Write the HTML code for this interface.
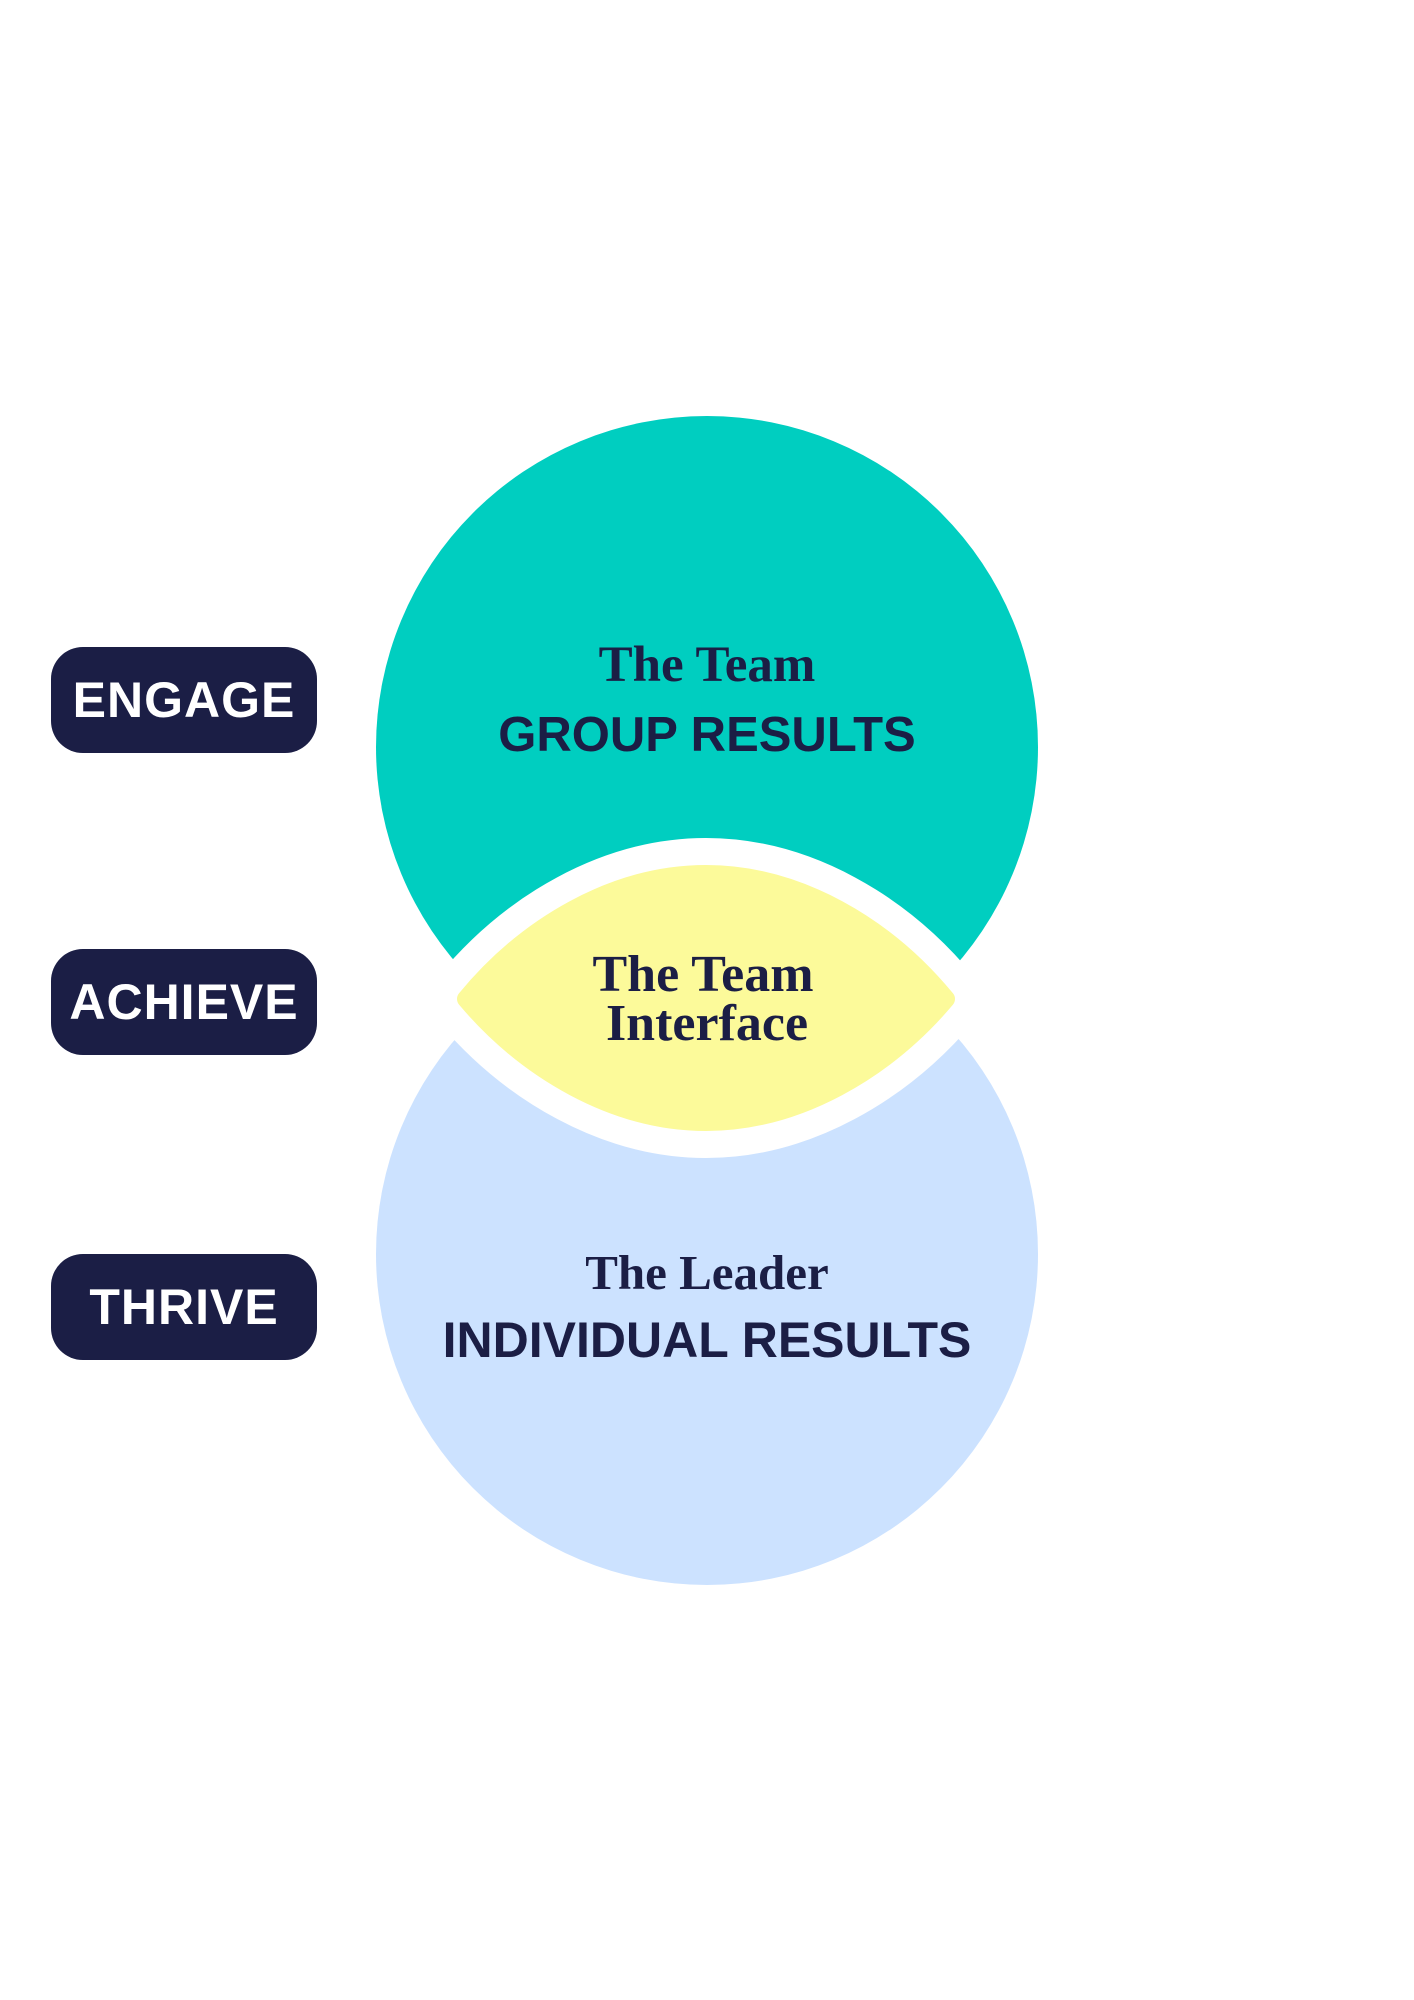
<!DOCTYPE html>
<html>
<head>
<meta charset="utf-8">
<style>
  html,body{margin:0;padding:0;background:#fff;}
  body{width:1414px;height:2000px;position:relative;overflow:hidden;}
  svg{position:absolute;left:0;top:0;}
  .pill{position:absolute;left:51px;width:266px;height:106px;border-radius:32px;background:#1b1e45;color:#fff;
    font-family:"Liberation Sans",sans-serif;font-weight:bold;font-size:50px;display:flex;align-items:center;justify-content:center;letter-spacing:1px;}
</style>
</head>
<body>
<svg width="1414" height="2000" viewBox="0 0 1414 2000">
  <circle cx="707" cy="747" r="331" fill="#00cec0"/>
  <circle cx="707" cy="1254" r="331" fill="#cce2ff"/>
  <path d="M466,999 C526,926 614,874 706,874 C798,874 886,926 946,999 C886,1070 798,1122 706,1122 C614,1122 526,1070 466,999 Z"
        fill="#fff" stroke="#fff" stroke-width="72" stroke-linejoin="round"/>
  <path d="M466,999 C526,926 614,874 706,874 C798,874 886,926 946,999 C886,1070 798,1122 706,1122 C614,1122 526,1070 466,999 Z"
        fill="#fcfa9a" stroke="#fcfa9a" stroke-width="18" stroke-linejoin="round"/>
  <g fill="#1b1e45" text-anchor="middle">
    <text x="707" y="681" font-family="Liberation Serif,serif" font-weight="bold" font-size="51">The Team</text>
    <text x="707" y="751" font-family="Liberation Sans,sans-serif" font-weight="bold" font-size="49">GROUP RESULTS</text>
    <text x="703" y="991" font-family="Liberation Serif,serif" font-weight="bold" font-size="52">The Team</text>
    <text x="707" y="1040" font-family="Liberation Serif,serif" font-weight="bold" font-size="52">Interface</text>
    <text x="707" y="1289" font-family="Liberation Serif,serif" font-weight="bold" font-size="49">The Leader</text>
    <text x="707" y="1357" font-family="Liberation Sans,sans-serif" font-weight="bold" font-size="50">INDIVIDUAL RESULTS</text>
  </g>
</svg>
<div class="pill" style="top:647px;">ENGAGE</div>
<div class="pill" style="top:949px;">ACHIEVE</div>
<div class="pill" style="top:1254px;">THRIVE</div>
</body>
</html>
